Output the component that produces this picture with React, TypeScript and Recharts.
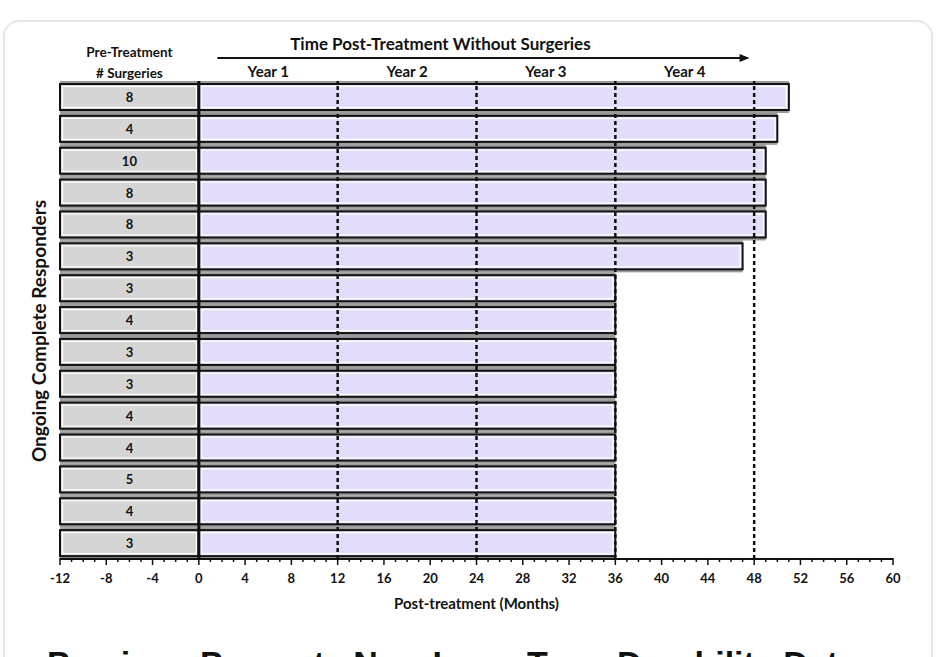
import React from "react";
import { Bar, BarChart, LabelList, ReferenceArea, ReferenceLine, XAxis, YAxis } from "recharts";

// one row per ongoing complete responder, top to bottom
const responders = ["R1", "R2", "R3", "R4", "R5", "R6", "R7", "R8", "R9", "R10", "R11", "R12", "R13", "R14", "R15"];
const preSurgeries = [8, 4, 10, 8, 8, 3, 3, 4, 3, 3, 4, 4, 5, 4, 3];
const monthsWithoutSurgery = [51, 50, 49, 49, 49, 47, 36, 36, 36, 36, 36, 36, 36, 36, 36];
const preTreatmentMonths = [-12, -12, -12, -12, -12, -12, -12, -12, -12, -12, -12, -12, -12, -12, -12];

const majorTicks = [-12, -8, -4, 0, 4, 8, 12, 16, 20, 24, 28, 32, 36, 40, 44, 48, 52, 56, 60];
const yearBoundaries = [12, 24, 36, 48];
const yearLabels = ["Year 1", "Year 2", "Year 3", "Year 4"];
const yearCenters = [6, 18, 30, 42];
const arrowSpan = [1.6, 47.6];

const data = responders.map((id, i) => ({
  id,
  pre: preTreatmentMonths[i],
  post: monthsWithoutSurgery[i],
  surgeries: preSurgeries[i],
}));

// every month gets a small tick, every 4th a label
const monthTicks: number[] = [];
for (let m = majorTicks[0]; m <= majorTicks[majorTicks.length - 1]; m++) monthTicks.push(m);

const FONT = "Lato, 'Open Sans', sans-serif";
const GREY = "#d5d5d5";
const LAVENDER = "#e3ddfb";

const RowBar = (props: any) => {
  const { x, y, width, height, fill } = props;
  const left = Math.min(x, x + width);
  const w = Math.abs(width);
  return (
    <g>
      <rect x={left} y={y - 3} width={w} height={height + 6} fill="#9a9a9a" />
      <rect x={left} y={y} width={w} height={height} fill={fill} stroke="#111" strokeWidth={2} />
      <rect x={left + 2.5} y={y + 2.5} width={w - 5} height={height - 5} fill="none" stroke="#fff" strokeWidth={1.2} />
    </g>
  );
};

const MonthTick = (props: any) => {
  const { x, y, payload } = props;
  const major = payload.value % 4 === 0;
  return (
    <g>
      <line x1={x} x2={x} y1={y - 1} y2={y + (major ? 6 : 3)} stroke="#111" strokeWidth={1.5} />
      {major && (
        <text x={x} y={y + 24} textAnchor="middle" fontSize={13} fontWeight={700} fontFamily={FONT} fill="#111">
          {payload.value}
        </text>
      )}
    </g>
  );
};

const CountLabel = (props: any) => {
  const { x, y, width, height, value } = props;
  return (
    <text x={x + width / 2} y={y + height / 2} textAnchor="middle" dominantBaseline="central" fontSize={13} fontWeight={700} fontFamily={FONT} fill="#111">
      {value}
    </text>
  );
};

const headerText = (lines: string[], dy: number, size = 12) => (props: any) => {
  const vb = props.viewBox;
  return (
    <g>
      {lines.map((l, i) => (
        <text key={l} x={vb.x} y={vb.y + dy + i * 21} textAnchor="middle" fontSize={size} fontWeight={700} fontFamily={FONT} fill="#111">
          {l}
        </text>
      ))}
    </g>
  );
};

const ArrowHeader = (props: any) => {
  const vb = props.viewBox;
  const ay = vb.y - 23;
  const x2 = vb.x + vb.width;
  return (
    <g>
      <text x={vb.x + vb.width / 2 - 43} y={vb.y - 31} textAnchor="middle" fontSize={17} fontWeight={700} fontFamily={FONT} fill="#111">
        Time Post-Treatment Without Surgeries
      </text>
      <line x1={vb.x} x2={x2 - 6} y1={ay} y2={ay} stroke="#111" strokeWidth={2} />
      <path d={`M${x2 - 10},${ay - 4} L${x2},${ay} L${x2 - 10},${ay + 4} Z`} fill="#111" />
    </g>
  );
};

const YTitle = (props: any) => {
  const vb = props.viewBox;
  const cx = vb.x - 22;
  const cy = vb.y + vb.height / 2 + 11;
  return (
    <text x={cx} y={cy} transform={`rotate(-90 ${cx} ${cy})`} textAnchor="middle" dominantBaseline="central" fontSize={19} fontWeight={700} fontFamily={FONT} fill="#111">
      Ongoing Complete Responders
    </text>
  );
};

export default function App() {
  return (
    <div style={{ position: "fixed", left: 0, top: 0, width: 939, height: 657, overflow: "hidden", background: "#fff" }}>
      <div
        style={{
          position: "absolute",
          left: 3,
          top: 20,
          width: 930,
          height: 700,
          border: "2px solid #e6e6e6",
          borderRadius: 16,
          boxSizing: "border-box",
        }}
      />
      <div style={{ position: "absolute", left: 0, top: 0 }}>
        <BarChart
          width={939}
          height={657}
          data={data}
          layout="vertical"
          stackOffset="sign"
          barSize={26}
          margin={{ top: 81, right: 46, bottom: 68, left: 60 }}
        >
          <XAxis
            type="number"
            domain={[-12, 60]}
            ticks={monthTicks}
            interval={0}
            tickSize={0}
            tickMargin={0}
            tick={<MonthTick />}
            tickLine={false}
            height={30}
            axisLine={{ stroke: "#111", strokeWidth: 2 }}
            label={{ value: "Post-treatment (Months)", position: "bottom", offset: 9, fontSize: 15, fontWeight: 700, fontFamily: FONT, fill: "#111" }}
          />
          <YAxis
            type="category"
            dataKey="id"
            width={0}
            tick={false}
            tickLine={false}
            axisLine={{ stroke: "#111", strokeWidth: 2.5 }}
          />
          <Bar dataKey="pre" stackId="row" fill={GREY} shape={<RowBar />} isAnimationActive={false}>
            <LabelList dataKey="surgeries" content={<CountLabel />} />
          </Bar>
          <Bar dataKey="post" stackId="row" fill={LAVENDER} shape={<RowBar />} isAnimationActive={false} />
          {yearBoundaries.map((m) => (
            <ReferenceLine key={m} x={m} stroke="#111" strokeWidth={2.5} strokeDasharray="4 3" />
          ))}
          <ReferenceLine x={0} stroke="#111" strokeWidth={3} />
          <ReferenceLine x={-12} stroke="none" label={<YTitle />} />
          {yearCenters.map((m, i) => (
            <ReferenceLine key={"y" + m} x={m} stroke="none" label={headerText([yearLabels[i]], -4, 15)} />
          ))}
          <ReferenceLine x={-6} stroke="none" label={headerText(["Pre-Treatment", "# Surgeries"], -24, 13.5)} />
          <ReferenceArea x1={arrowSpan[0]} x2={arrowSpan[1]} fill="none" stroke="none" label={<ArrowHeader />} />
        </BarChart>
      </div>
      <div
        style={{
          position: "absolute",
          left: 47,
          top: 646,
          whiteSpace: "nowrap",
          fontFamily: "'Liberation Sans', Arial, sans-serif",
          fontWeight: 700,
          fontSize: 34,
          lineHeight: "34px",
          color: "#111",
        }}
      >
        Precigen Presents New Long-Term Durability Data
      </div>
    </div>
  );
}
